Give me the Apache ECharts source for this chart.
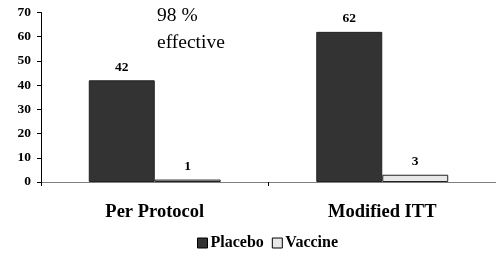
<!DOCTYPE html>
<html><head><meta charset="utf-8">
<script src="https://cdn.jsdelivr.net/npm/echarts@6/dist/echarts.min.js"></script>
<style>html,body{margin:0;padding:0;background:#fff}#c{width:496px;height:254px}</style>
</head><body><div id="c"></div>
<script>
const categories = ['Per Protocol', 'Modified ITT'];
const placebo = [42, 62];
const vaccine = [1, 3];
const yTicks = [0, 10, 20, 30, 40, 50, 60, 70];
const annotation = '98 %\neffective';

const serif = '"Liberation Serif","Times New Roman",serif';
const chart = echarts.init(document.getElementById('c'));
chart.setOption({
  animation: false,
  grid: {left: 41, right: 0, top: 12.5, bottom: 72, containLabel: false},
  legend: {
    bottom: -2, left: 192, itemWidth: 10, itemHeight: 10, itemGap: 8,
    icon: 'rect',
    textStyle: {fontFamily: serif, fontWeight: 'bold', fontSize: 16, color: '#000', padding: [0,0,0,-2]},
    data: [
      {name: 'Placebo', itemStyle: {color: '#333', borderColor: '#000', borderWidth: 1}},
      {name: 'Vaccine', itemStyle: {color: '#e8e8e8', borderColor: '#000', borderWidth: 1}}
    ]
  },
  xAxis: {
    type: 'category', data: categories,
    axisLine: {lineStyle: {color: '#808080', width: 1}},
    axisTick: {show: true, alignWithLabel: false, length: 4, inside: false, lineStyle: {color: '#000'}},
    axisLabel: {fontFamily: serif, fontWeight: 'bold', fontSize: 18.5, color: '#000', margin: 21}
  },
  yAxis: {
    type: 'value', min: yTicks[0], max: yTicks[yTicks.length-1], interval: 10,
    splitLine: {show: false},
    axisLine: {show: true, lineStyle: {color: '#000', width: 1}},
    axisTick: {show: true, length: 4, lineStyle: {color: '#000'}},
    axisLabel: {fontFamily: serif, fontWeight: 'bold', fontSize: 13.5, color: '#000', margin: 10}
  },
  series: [
    {name: 'Placebo', type: 'bar', data: placebo, barWidth: '29%', barGap: '0%',
     itemStyle: {color: '#333', borderColor: '#222', borderWidth: 1},
     label: {show: true, position: 'top', distance: 6, fontFamily: serif, fontWeight: 'bold', fontSize: 13.5, color: '#000'}},
    {name: 'Vaccine', type: 'bar', data: vaccine, barWidth: '29%', barGap: '0%',
     itemStyle: {color: '#e8e8e8', borderColor: '#222', borderWidth: 1},
     label: {show: true, position: 'top', distance: 6, fontFamily: serif, fontWeight: 'bold', fontSize: 13.5, color: '#000'}}
  ],
  graphic: [{
    type: 'text', left: 157, top: 2,
    style: {text: annotation, font: '19.5px ' + serif, fill: '#000', lineHeight: 27}
  }]
});
</script></body></html>
